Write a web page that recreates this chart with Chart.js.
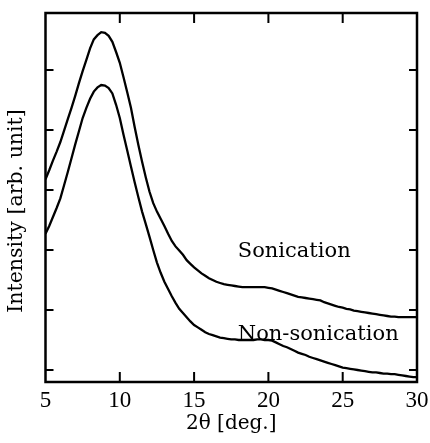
<!DOCTYPE html>
<html>
<head>
<meta charset="utf-8">
<script src="https://cdn.jsdelivr.net/npm/chart.js@4"></script>
<style>
  html, body { margin: 0; padding: 0; background: #fff; }
  #wrap { width: 430px; height: 443px; }
</style>
</head>
<body>
<div id="wrap"><canvas id="xrd"></canvas></div>
<script>
const ANGLE = [
  5, 5.25, 5.5, 5.75, 6, 6.25, 6.5, 6.75, 7, 7.25, 7.5, 7.75, 8, 8.25, 8.5, 8.75,
  9, 9.25, 9.5, 9.75, 10, 10.25, 10.5, 10.75, 11, 11.25, 11.5, 11.75, 12, 12.25, 12.5, 12.75,
  13, 13.25, 13.5, 13.75, 14, 14.25, 14.5, 14.75, 15, 15.25, 15.5, 15.75, 16, 16.25, 16.5, 16.75,
  17, 17.25, 17.5, 17.75, 18, 18.25, 18.5, 18.75, 19, 19.25, 19.5, 19.75, 20, 20.25, 20.5, 20.75,
  21, 21.25, 21.5, 21.75, 22, 22.25, 22.5, 22.75, 23, 23.25, 23.5, 23.75, 24, 24.25, 24.5, 24.75,
  25, 25.25, 25.5, 25.75, 26, 26.25, 26.5, 26.75, 27, 27.25, 27.5, 27.75, 28, 28.25, 28.5, 28.75,
  29, 29.25, 29.5, 29.75, 30
]

const SONICATION = [
  3.18, 3.33, 3.49, 3.64, 3.80, 3.99, 4.18, 4.37, 4.57, 4.78, 4.98, 5.17, 5.36, 5.51, 5.58, 5.63,
  5.62, 5.57, 5.47, 5.30, 5.12, 4.88, 4.63, 4.37, 4.05, 3.75, 3.47, 3.21, 2.97, 2.78, 2.64, 2.52,
  2.40, 2.27, 2.15, 2.06, 1.99, 1.92, 1.83, 1.77, 1.71, 1.66, 1.61, 1.57, 1.53, 1.50, 1.47, 1.45,
  1.43, 1.42, 1.41, 1.40, 1.39, 1.38, 1.38, 1.38, 1.38, 1.38, 1.38, 1.38, 1.37, 1.36, 1.34, 1.32,
  1.30, 1.28, 1.26, 1.24, 1.22, 1.21, 1.20, 1.19, 1.18, 1.17, 1.16, 1.13, 1.11, 1.09, 1.07, 1.05,
  1.04, 1.02, 1.01, 0.99, 0.98, 0.97, 0.96, 0.95, 0.94, 0.93, 0.92, 0.91, 0.90, 0.89, 0.89, 0.88,
  0.88, 0.88, 0.88, 0.88, 0.88
]

const NON_SONICATION = [
  2.27, 2.40, 2.55, 2.70, 2.86, 3.08, 3.30, 3.53, 3.76, 3.98, 4.20, 4.37, 4.52, 4.64, 4.71, 4.75,
  4.74, 4.70, 4.61, 4.42, 4.20, 3.92, 3.66, 3.39, 3.13, 2.88, 2.64, 2.43, 2.22, 2.00, 1.79, 1.62,
  1.47, 1.35, 1.23, 1.12, 1.02, 0.95, 0.88, 0.81, 0.75, 0.71, 0.67, 0.63, 0.60, 0.58, 0.56, 0.54,
  0.53, 0.52, 0.51, 0.51, 0.50, 0.50, 0.50, 0.50, 0.50, 0.51, 0.51, 0.50, 0.50, 0.49, 0.46, 0.43,
  0.40, 0.38, 0.35, 0.32, 0.29, 0.27, 0.25, 0.22, 0.20, 0.18, 0.16, 0.14, 0.12, 0.10, 0.08, 0.06,
  0.04, 0.03, 0.02, 0.01, 0.00, -0.01, -0.02, -0.03, -0.04, -0.04, -0.05, -0.06, -0.06, -0.07, -0.07, -0.08,
  -0.09, -0.10, -0.11, -0.12, -0.12
]

const X_TICKS = [5, 10, 15, 20, 25, 30]
const Y_TICKS = [0, 1, 2, 3, 4, 5]

const toPoints = (ys) => ys.map((y, i) => ({ x: ANGLE[i], y: y }))

// frame, inward ticks, y title and curve labels
const framePlugin = {
  id: 'frame',
  afterDatasetsDraw(chart) {
    const { ctx, chartArea: a, scales: { x, y } } = chart
    ctx.save()
    ctx.strokeStyle = '#000'
    ctx.lineWidth = 2
    X_TICKS.slice(1, -1).forEach(v => {
      const px = x.getPixelForValue(v)
      ctx.beginPath()
      ctx.moveTo(px, a.bottom); ctx.lineTo(px, a.bottom - 10)
      ctx.moveTo(px, a.top); ctx.lineTo(px, a.top + 10)
      ctx.stroke()
    })
    Y_TICKS.forEach(v => {
      const py = y.getPixelForValue(v)
      ctx.beginPath()
      ctx.moveTo(a.left, py); ctx.lineTo(a.left + 8, py)
      ctx.moveTo(a.right, py); ctx.lineTo(a.right - 8, py)
      ctx.stroke()
    })
    ctx.lineWidth = 2.5
    ctx.strokeRect(a.left, a.top, a.right - a.left, a.bottom - a.top)

    ctx.fillStyle = '#000'
    ctx.font = '21px "DejaVu Serif"'
    ctx.textBaseline = 'alphabetic'
    ctx.textAlign = 'left'
    ctx.fillText('Sonication', x.getPixelForValue(17.94), y.getPixelForValue(1.88))
    ctx.fillText('Non-sonication', x.getPixelForValue(17.94), y.getPixelForValue(0.5))

    ctx.translate(17, 211)
    ctx.rotate(-Math.PI / 2)
    ctx.font = '20.5px "DejaVu Serif"'
    ctx.textAlign = 'center'
    ctx.textBaseline = 'middle'
    ctx.fillText('Intensity [arb. unit]', 0, 0)
    ctx.restore()
  }
}

const line = {
  type: 'line',
  pointRadius: 0,
  borderColor: '#000',
  borderWidth: 2.3,
  tension: 0,
  fill: false,
}

new Chart(document.getElementById('xrd'), {
  type: 'line',
  data: {
    datasets: [
      { ...line, label: 'Sonication', data: toPoints(SONICATION) },
      { ...line, label: 'Non-sonication', data: toPoints(NON_SONICATION) },
    ]
  },
  options: {
    responsive: true,
    maintainAspectRatio: false,
    animation: false,
    layout: { padding: { top: 13, right: 13, left: 0, bottom: 0 } },
    plugins: {
      legend: { display: false },
      tooltip: { enabled: false },
    },
    scales: {
      x: {
        type: 'linear',
        min: 5,
        max: 30,
        afterBuildTicks: (s) => { s.ticks = X_TICKS.map(v => ({ value: v })) },
        afterFit: (s) => { s.height = 61 },
        grid: { display: false },
        border: { display: false },
        ticks: {
          color: '#000',
          padding: -3,
          maxRotation: 0,
          font: { family: 'Liberation Serif', size: 23 },
        },
        title: {
          display: true,
          text: '2θ [deg.]',
          color: '#000',
          padding: { top: 0, bottom: 7 },
          font: { family: 'DejaVu Serif', size: 20 },
        },
      },
      y: {
        min: -0.2,
        max: 5.95,
        afterFit: (s) => { s.width = 45.5 },
        grid: { display: false },
        border: { display: false },
        ticks: { display: false },
        title: { display: false },
      },
    },
  },
  plugins: [framePlugin],
})
</script>
</body>
</html>
